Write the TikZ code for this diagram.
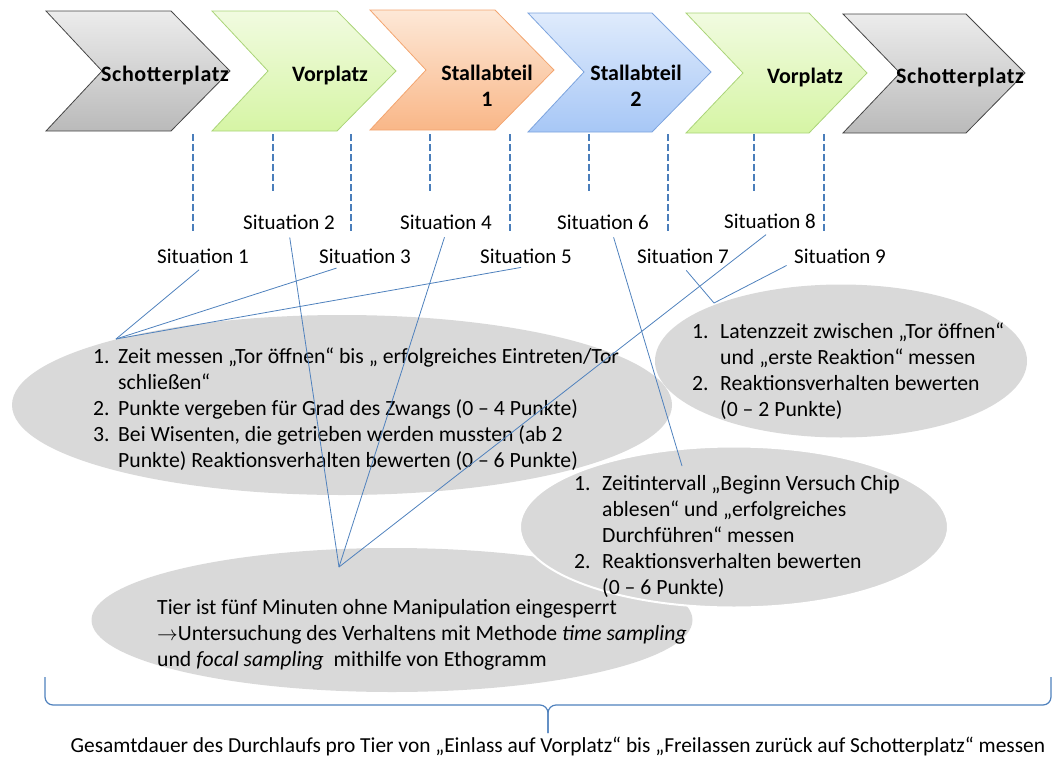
\documentclass[tikz,border=0pt]{standalone}
\usepackage{fontspec}
\setmainfont{Carlito}
\usepackage{tikz}
\usetikzlibrary{shapes,positioning,calc}
\definecolor{graytop}{RGB}{236,236,236}
\definecolor{graybot}{RGB}{186,186,186}
\definecolor{grayline}{RGB}{70,70,70}
\definecolor{greentop}{RGB}{241,251,224}
\definecolor{greenbot}{RGB}{214,245,165}
\definecolor{greenline}{RGB}{170,212,120}
\definecolor{orangetop}{RGB}{253,232,215}
\definecolor{orangebot}{RGB}{249,183,136}
\definecolor{orangeline}{RGB}{243,165,112}
\definecolor{bluetop}{RGB}{223,235,252}
\definecolor{bluebot}{RGB}{167,199,246}
\definecolor{blueline}{RGB}{125,164,222}
\definecolor{dashblue}{RGB}{74,126,187}
\definecolor{lineblue}{RGB}{79,129,189}
\definecolor{blobgray}{RGB}{217,217,217}

\begin{document}
\begin{tikzpicture}[x=1pt,y=-1pt,
  stgray/.style={draw=grayline,top color=graytop,bottom color=graybot,line width=0.8pt},
  stgreen/.style={draw=greenline,top color=greentop,bottom color=greenbot,line width=0.8pt},
  storange/.style={draw=orangeline,top color=orangetop,bottom color=orangebot,line width=0.8pt},
  stblue/.style={draw=blueline,top color=bluetop,bottom color=bluebot,line width=0.8pt},
  stagetext/.style={font=\fontsize{22}{26}\selectfont\bfseries,align=center,inner sep=0},
  situ/.style={font=\fontsize{21}{26}\selectfont,inner sep=3pt},
  blob/.style={ellipse,fill=blobgray,inner sep=0},
  listtext/.style={font=\fontsize{21.7}{26}\selectfont,inner sep=0,anchor=north west},
  tick/.style={draw=dashblue,line width=2.5pt,dash pattern=on 7pt off 3pt},
  conn/.style={draw=lineblue,line width=0.8pt,shorten <=5pt},
  brace/.style={draw=lineblue,line width=1.2pt,rounded corners=8pt}]
\useasboundingbox (0,0) rectangle (1053,758);

% stages
\path[stgray] (46,11) -- ++(125,0) -- ++(59,60) -- ++(-59,60) -- ++(-125,0) -- ++(56,-60) -- cycle;
\path[stgreen] (212,11) -- ++(125,0) -- ++(59,60) -- ++(-59,60) -- ++(-125,0) -- ++(56,-60) -- cycle;
\path[storange] (370,10) -- ++(125,0) -- ++(59,60) -- ++(-59,60) -- ++(-125,0) -- ++(56,-60) -- cycle;
\path[stblue] (528,13) -- ++(124,0) -- ++(59,59) -- ++(-59,60) -- ++(-124,0) -- ++(56,-60) -- cycle;
\path[stgreen] (686,13) -- ++(123,0) -- ++(58,60) -- ++(-58,60) -- ++(-123,0) -- ++(57,-60) -- cycle;
\path[stgray] (843,14) -- ++(123,0) -- ++(59,59) -- ++(-59,60) -- ++(-123,0) -- ++(57,-60) -- cycle;
\node[stagetext] (l1) at (165,76) {\addfontfeatures{LetterSpace=3}Schotterplatz};
\node[stagetext] (l2) at (330,76) {Vorplatz};
\node[stagetext] (l3) at (487,86) {Stallabteil\\1};
\node[stagetext] (l4) at (636,86) {Stallabteil\\2};
\node[stagetext] (l5) at (805,78) {Vorplatz};
\node[stagetext] (l6) at (960,78) {\addfontfeatures{LetterSpace=3}Schotterplatz};

% drop lines
\foreach \x/\yend in {193/231,273/191,351/231,430/191,510/231,589/191,668/231,754/191,824/231}
  \draw[tick] (\x,134) -- (\x,\yend);

% situations
\node[situ] (s1) at (203,256) {Situation 1};
\node[situ] (s2) at (289,222) {Situation 2};
\node[situ] (s3) at (365,256) {Situation 3};
\node[situ] (s4) at (446,222) {Situation 4};
\node[situ] (s5) at (526,256) {Situation 5};
\node[situ] (s6) at (603,222) {Situation 6};
\node[situ] (s7) at (683,256) {Situation 7};
\node[situ] (s8) at (770,221) {Situation 8};
\node[situ] (s9) at (840,256) {Situation 9};

% task ellipses
\node[blob,minimum width=601,minimum height=144] (e4) at (392,620) {};
\node[blob,minimum width=660,minimum height=180] (e1) at (342,405) {};
\node[blob,minimum width=372,minimum height=153] (e2) at (841,361) {};
\node[blob,draw=white,line width=2pt,minimum width=428,minimum height=161] (e3) at (734,527) {};

\node[listtext] (t1) at (93,345) {\begin{tabular}[t]{@{}p{25pt}@{}l@{}}
1. & Zeit messen „Tor öffnen“ bis „ erfolgreiches Eintreten/Tor\\
 & schließen“\\
2. & Punkte vergeben für Grad des Zwangs (0 – 4 Punkte)\\
3. & Bei Wisenten, die getrieben werden mussten (ab 2\\
 & Punkte) Reaktionsverhalten bewerten (0 – 6 Punkte)
\end{tabular}};
\node[listtext] (t2) at (692,320) {\begin{tabular}[t]{@{}p{28pt}@{}l@{}}
1. & Latenzzeit zwischen „Tor öffnen“\\
 & und „erste Reaktion“ messen\\
2. & Reaktionsverhalten bewerten\\
 & (0 – 2 Punkte)
\end{tabular}};
\node[listtext] (t3) at (574,472) {\begin{tabular}[t]{@{}p{28pt}@{}l@{}}
1. & Zeitintervall „Beginn Versuch Chip\\
 & ablesen“ und „erfolgreiches\\
 & Durchführen“ messen\\
2. & Reaktionsverhalten bewerten\\
 & (0 – 6 Punkte)
\end{tabular}};
\node[listtext] (t4) at (157,596) {\begin{tabular}[t]{@{}l@{}}
Tier ist fünf Minuten ohne Manipulation eingesperrt\\
$\rightarrow$Untersuchung des Verhaltens mit Methode \textit{time sampling}\\
und \textit{focal sampling}\ \ mithilfe von Ethogramm
\end{tabular}};

% links situation -> task
\coordinate (hub1) at (116,339);
\coordinate (hub2) at (714,303);
\coordinate (hub3) at (682,466);
\coordinate (hub4) at (339,567);
\draw[conn] (s1.south) -- (hub1);
\draw[conn] (s3.204) -- (hub1);
\draw[conn] (s5.south) -- (hub1);
\draw[conn] (s2.south) -- (hub4);
\draw[conn] (s4.south) -- (hub4);
\draw[conn] (s8.south) -- (hub4);
\draw[conn] (s6.311) -- (hub3);
\draw[conn] (s7.south) -- (hub2);
\draw[conn] (s9.base west) -- (hub2);

% total duration
\coordinate (bl) at (45,677);
\coordinate (br) at (1051,677);
\coordinate (bm) at (548,733);
\draw[brace] (bl) -- ++(0,28) -| (bm);
\draw[brace] (br) -- ++(0,28) -| (bm);
\node[situ,font=\fontsize{21.4}{26}\selectfont] (total) at (558,746) {Gesamtdauer des Durchlaufs pro Tier von „Einlass auf Vorplatz“ bis „Freilassen zurück auf Schotterplatz“ messen};
\end{tikzpicture}
\end{document}
